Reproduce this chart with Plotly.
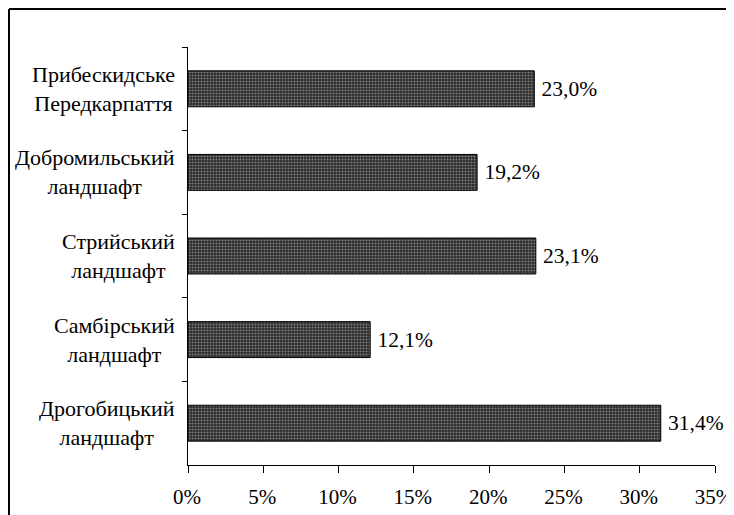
import plotly.graph_objects as go

categories = ["Прибескидське<br>Передкарпаття", "Добромильський<br>ландшафт",
              "Стрийський<br>ландшафт", "Самбірський<br>ландшафт", "Дрогобицький<br>ландшафт"]
values = [23.0, 19.2, 23.1, 12.1, 31.4]
x_ticks = [0, 5, 10, 15, 20, 25, 30, 35]
x_tick_labels = ["0%", "5%", "10%", "15%", "20%", "25%", "30%", "35%"]

FONT = "Liberation Serif"
FS = 22
# page body has an 8px margin, so the figure is 8px smaller
W, H = 726, 507
L, R, T, B = 180, 19, 39, 50

fig = go.Figure(go.Bar(
    y=categories, x=values, orientation="h",
    marker=dict(
        color="#2a2a2a",
        line=dict(color="#000000", width=1),
        pattern=dict(shape=".", fgcolor="#d0d0d0", bgcolor="#2a2a2a", size=3, solidity=0.4),
    ),
    texttemplate="\u2009%{x:.1f}%", textposition="outside", cliponaxis=False,
    textfont=dict(family=FONT, size=21.5, color="#000"),
    width=0.43,
))

for c in categories:
    fig.add_annotation(x=0, xref="paper", y=c, yref="y", text=c, showarrow=False,
                       xanchor="right", yanchor="middle", align="center", xshift=-11,
                       font=dict(family=FONT, size=FS, color="#000"))

pw, ph = W - L - R, H - T - B
# outer chart frame (left and top edges are visible; right and bottom lie off-page)
fig.add_shape(type="line", xref="paper", yref="paper",
              x0=(1 - L) / pw, x1=(1 - L) / pw, y0=-B / ph - 0.05, y1=((H - B) - 1) / ph,
              line=dict(color="#000", width=2), layer="below")
fig.add_shape(type="line", xref="paper", yref="paper",
              x0=(1 - L) / pw, x1=(W + 20 - L) / pw, y0=((H - B) - 1) / ph, y1=((H - B) - 1) / ph,
              line=dict(color="#000", width=2), layer="below")

fig.update_layout(
    width=W, height=H, margin=dict(l=L, r=R, t=T, b=B, autoexpand=False),
    plot_bgcolor="white", paper_bgcolor="white",
    separators=",.", showlegend=False,
    font=dict(family=FONT, size=FS, color="#000"),
    xaxis=dict(range=[0, 35], tickvals=x_ticks, ticktext=x_tick_labels, showgrid=False, zeroline=False,
               showline=True, linecolor="#000", linewidth=1, ticks="outside", ticklen=7,
               tickcolor="#000", ticklabelstandoff=6, ticklabeloverflow="allow", automargin=False,
               ticklabelshift=-1, tickfont=dict(family=FONT, size=21)),
    yaxis=dict(autorange="reversed", showticklabels=False, showgrid=False, zeroline=False,
               showline=True, linecolor="#000", linewidth=1, ticks="outside", ticklen=5,
               tickcolor="#000", tickson="boundaries", automargin=False),
)

fig.write_html("out.html")
